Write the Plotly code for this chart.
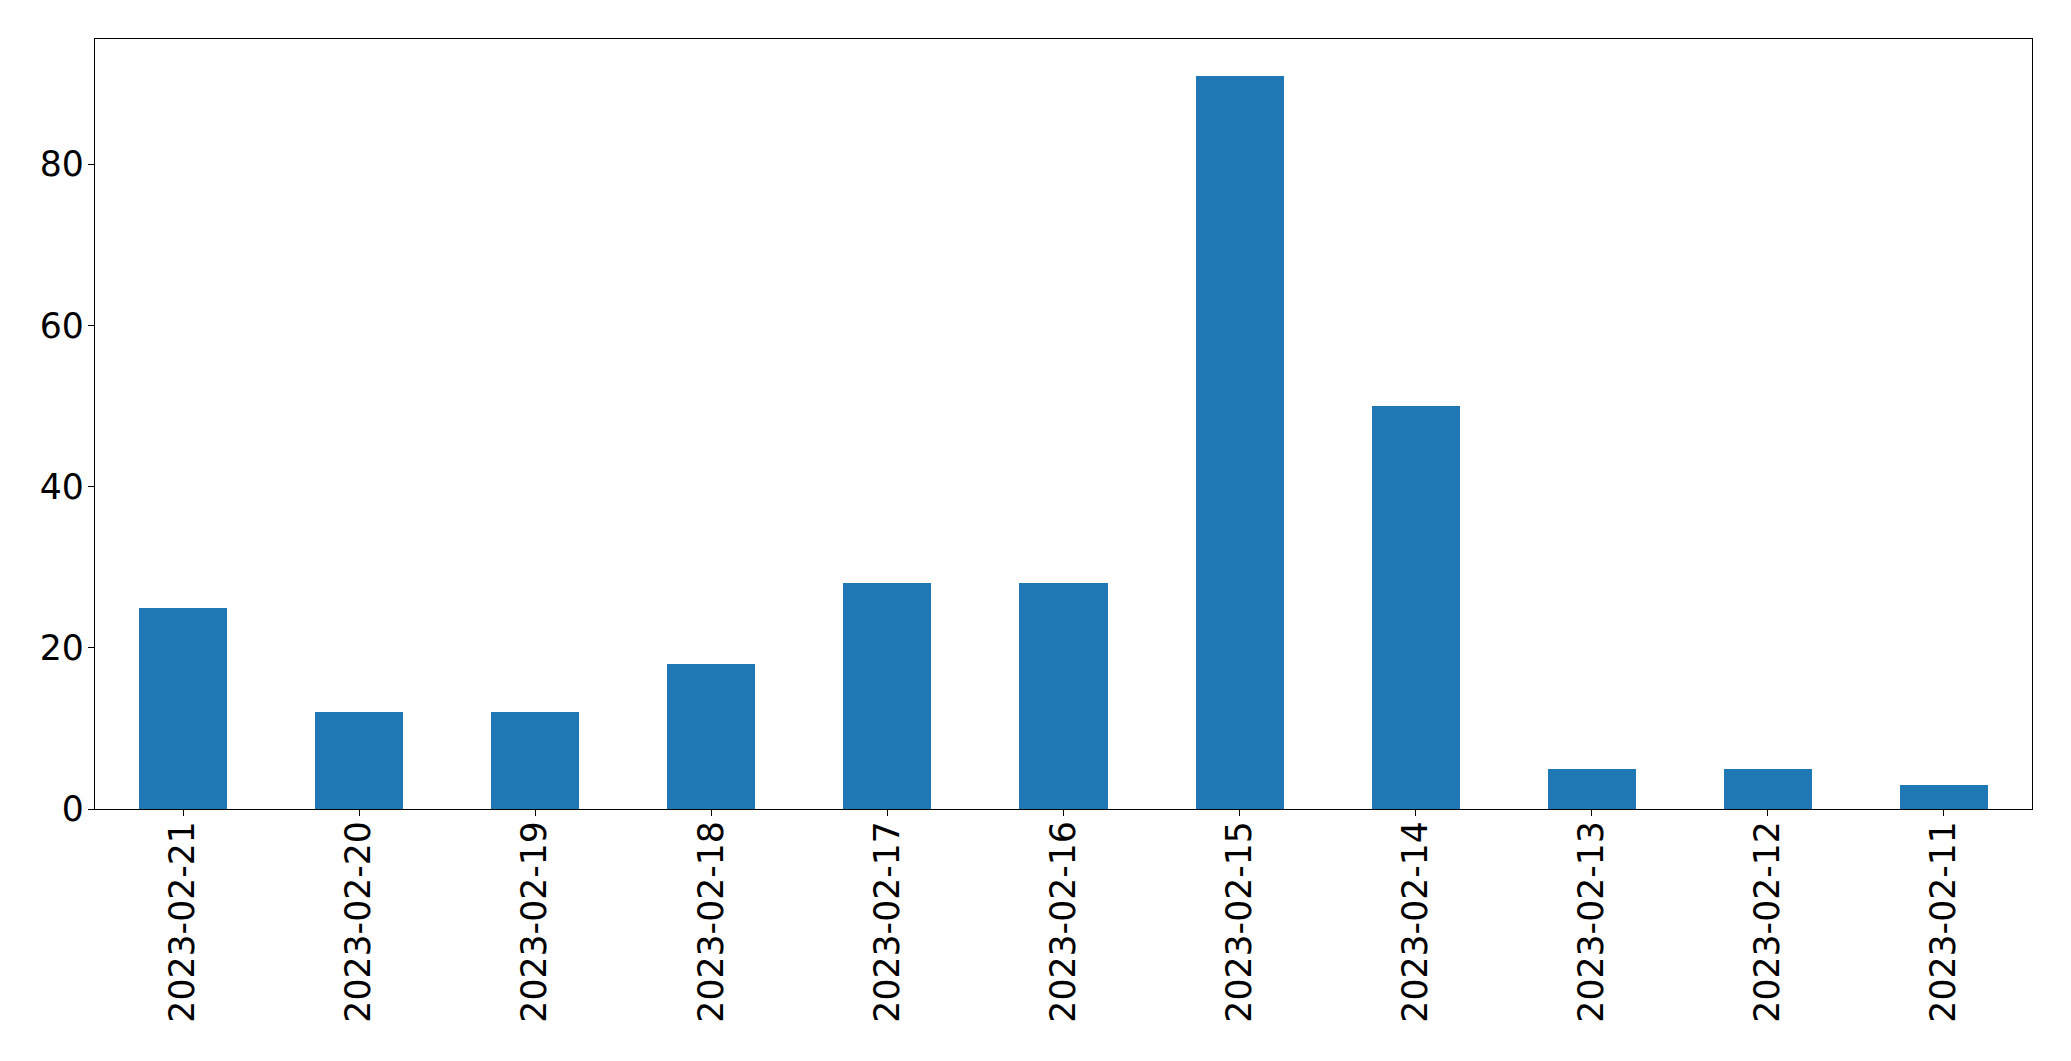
import plotly.graph_objects as go

dates = ["2023-02-21", "2023-02-20", "2023-02-19", "2023-02-18", "2023-02-17",
         "2023-02-16", "2023-02-15", "2023-02-14", "2023-02-13", "2023-02-12", "2023-02-11"]
counts = [25, 12, 12, 18, 28, 28, 91, 50, 5, 5, 3]
ytick_vals = [0, 20, 40, 60, 80]

fig = go.Figure(go.Bar(x=dates, y=counts, width=0.5, marker=dict(color="#1f77b4", line=dict(width=0))))

font = dict(family="DejaVu Sans", size=34.7, color="black")
fig.update_layout(
    width=2071, height=1061,
    margin=dict(l=87, r=47, t=31, b=260, autoexpand=False),
    plot_bgcolor="white", paper_bgcolor="white",
    font=font, showlegend=False, bargap=0,
)
fig.update_xaxes(
    type="category", range=[-0.5, len(dates) - 0.5], tickangle=-90,
    showline=True, linecolor="black", linewidth=1.4, mirror=True,
    ticks="outside", ticklen=6, tickwidth=1.4, tickcolor="black",
    showgrid=False, zeroline=False, tickfont=font, automargin=False,
    ticklabelstandoff=-9,
)
fig.update_yaxes(
    range=[0, max(counts) * 1.05], tickvals=ytick_vals,
    showline=True, linecolor="black", linewidth=1.4, mirror=True,
    ticks="outside", ticklen=6, tickwidth=1.4, tickcolor="black",
    showgrid=False, zeroline=False, tickfont=font, automargin=False,
    ticklabelstandoff=-3,
)
fig.write_html("out.html")
